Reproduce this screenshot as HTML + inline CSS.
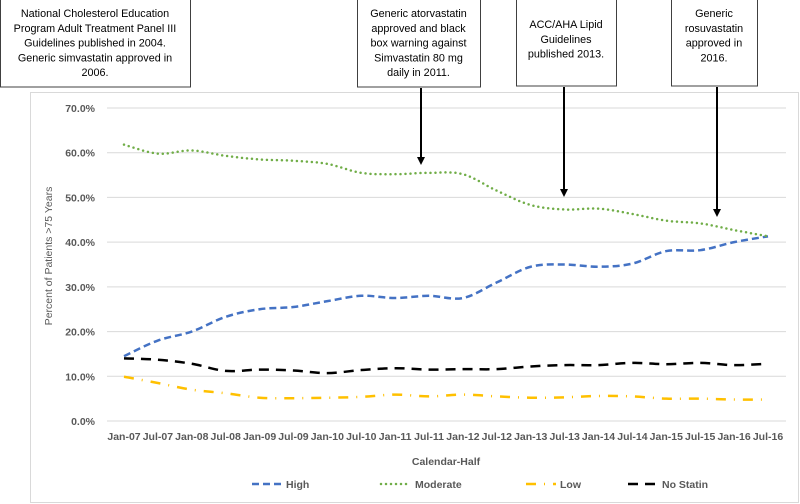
<!DOCTYPE html>
<html><head><meta charset="utf-8"><style>
body{margin:0;background:#fff;}
svg{display:block;font-family:"Liberation Sans",sans-serif;}
.tick{font-size:10.5px;fill:#595959;font-weight:bold;}
.ann{font-size:10.8px;fill:#000;}
</style></head><body>
<svg id="c" width="800" height="504">
<rect x="30.5" y="92.5" width="768" height="410" fill="#fff" stroke="#d9d9d9"/>
<g id="grid"></g><g id="series"></g><g id="labels"></g>
<text x="52" y="256" transform="rotate(-90 52 256)" text-anchor="middle" class="tick" style="font-weight:normal">Percent of Patients &gt;75 Years</text>
<text x="446" y="465" text-anchor="middle" class="tick">Calendar-Half</text>
<g id="legend"></g>
<g id="ann"></g>
</svg>
<script>
const categories=["Jan-07","Jul-07","Jan-08","Jul-08","Jan-09","Jul-09","Jan-10","Jul-10","Jan-11","Jul-11","Jan-12","Jul-12","Jan-13","Jul-13","Jan-14","Jul-14","Jan-15","Jul-15","Jan-16","Jul-16"];
const high=[14.5,18,20,23.3,25,25.5,26.8,28,27.5,28,27.5,31,34.5,35,34.5,35.2,38,38.2,40,41.3];
const moderate=[61.8,59.8,60.5,59.3,58.5,58.2,57.5,55.5,55.2,55.5,55.2,51.5,48.3,47.3,47.5,46.3,44.8,44.2,42.7,41.3];
const low=[9.9,8.5,7,6.2,5.2,5.1,5.2,5.4,5.9,5.5,5.9,5.5,5.2,5.3,5.6,5.5,5,5,4.8,4.8];
const noStatin=[14,13.7,12.8,11.2,11.5,11.3,10.7,11.4,11.8,11.5,11.6,11.6,12.2,12.5,12.5,13,12.7,13,12.5,12.8];
const yTicks=[0,10,20,30,40,50,60,70];
const NS="http://www.w3.org/2000/svg";
function mk(t,a,p){const e=document.createElementNS(NS,t);for(const k in a)e.setAttribute(k,a[k]);p.appendChild(e);return e;}
const x=i=>124+i*(768-124)/(categories.length-1);
const y=v=>421-v*(421-108)/70;
const grid=document.getElementById('grid'),labels=document.getElementById('labels');
yTicks.forEach(t=>{
 const l=mk('line',{x1:107,x2:786,y1:y(t),y2:y(t),stroke:'#d9d9d9','stroke-width':1},grid);
 
 
 const tx=mk('text',{x:95,y:y(t)+4,'text-anchor':'end',class:'tick'},labels);
 tx.textContent=t.toFixed(1)+'%';
 
 
});
categories.forEach((c,i)=>{
 const tx=mk('text',{x:x(i),y:440,'text-anchor':'middle',class:'tick'},labels);
 tx.textContent=c;
 
 
});
function smooth(vals){
 const p=vals.map((v,i)=>[x(i),y(v)]);let d='M'+p[0][0]+','+p[0][1];
 for(let i=0;i<p.length-1;i++){const p0=p[i-1]||p[i],p1=p[i],p2=p[i+1],p3=p[i+2]||p2;
  const c1=[p1[0]+(p2[0]-p0[0])/6,p1[1]+(p2[1]-p0[1])/6],c2=[p2[0]-(p3[0]-p1[0])/6,p2[1]-(p3[1]-p1[1])/6];
  d+=`C${c1[0]},${c1[1]} ${c2[0]},${c2[1]} ${p2[0]},${p2[1]}`;}
 return d;}
const styles=[
 {name:'High',vals:high,color:'#4472c4',dash:'7 4',cap:'butt'},
 {name:'Moderate',vals:moderate,color:'#70ad47',dash:'0 5',cap:'round'},
 {name:'Low',vals:low,color:'#ffc000',dash:'10 8 1 8',cap:'butt'},
 {name:'No Statin',vals:noStatin,color:'#000',dash:'10 7',cap:'butt'}];
const sg=document.getElementById('series');
styles.forEach(s=>{
 const p=mk('path',{d:smooth(s.vals),fill:'none',stroke:s.color,'stroke-width':2.5,'stroke-dasharray':s.dash,'stroke-linecap':s.cap},sg);
 
 
});
const lg=document.getElementById('legend');
const lx=[252,381,526,628];
styles.forEach((s,i)=>{
 const g=mk('g',{},lg);
 
 
 mk('line',{x1:lx[i],x2:lx[i]+30,y1:484,y2:484,stroke:s.color,'stroke-width':2.5,'stroke-dasharray':s.dash,'stroke-linecap':s.cap},g);
 const t=mk('text',{x:lx[i]+34,y:488,class:'tick'},g);t.textContent=s.name;
});
const ann=document.getElementById('ann');
const boxes=[
 {x:0,w:190,h:88,y0:17,lines:["National Cholesterol Education","Program Adult Treatment Panel III","Guidelines published in 2004.","Generic simvastatin approved in","2006."],ax:null},
 {x:357,w:123,h:88,y0:17,lines:["Generic atorvastatin","approved and black","box warning against","Simvastatin 80 mg","daily in 2011."],ax:421,ay:165},
 {x:516,w:100,h:87,y0:28,lines:["ACC/AHA Lipid","Guidelines","published 2013."],ax:564,ay:197},
 {x:671,w:86,h:87,y0:17,lines:["Generic","rosuvastatin","approved in","2016."],ax:717,ay:217}];
boxes.forEach(b=>{
 const g=mk('g',{},ann);
 
 
 mk('rect',{x:b.x+0.5,y:-1,width:b.w,height:b.h,fill:'#fff',stroke:'#404040'},g);
 b.lines.forEach((ln,i)=>{const t=mk('text',{x:b.x+b.w/2,y:b.y0+i*14.8,'text-anchor':'middle',class:'ann'},g);t.textContent=ln;});
 if(b.ax){mk('line',{x1:b.ax,x2:b.ax,y1:b.h,y2:b.ay-7,stroke:'#000','stroke-width':2},g);
  mk('polygon',{points:`${b.ax-4},${b.ay-8} ${b.ax+4},${b.ay-8} ${b.ax},${b.ay}`,fill:'#000'},g);}
});
</script>
</body></html>
